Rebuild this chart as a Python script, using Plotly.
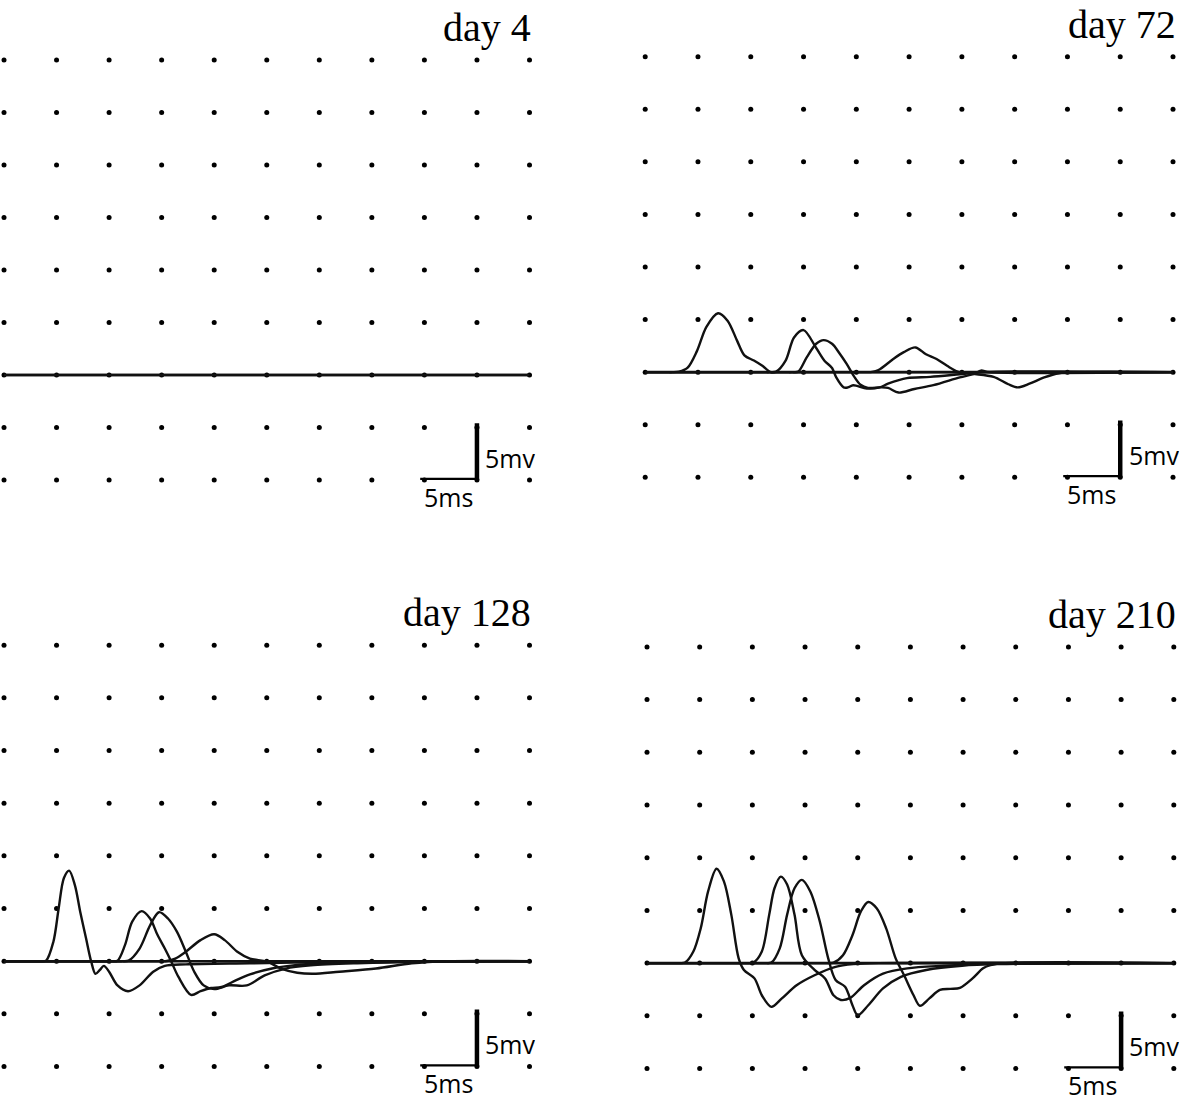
import numpy as np
import plotly.graph_objects as go

W, H = 1181, 1102

# ---------------- data (ms, mV) ----------------
GRID_MS = [0, 5, 10, 15, 20, 25, 30, 35, 40, 45, 50]
GRID_MV = [-10, -5, 0, 5, 10, 15, 20, 25, 30]

PANEL_TITLES = ["day 4", "day 72", "day 128", "day 210"]

BASELINE_MS = [0, 50]
BASELINE_MV = [0, 0]

# day 4: all responses flat
D4_A_MS = [0, 50]
D4_A_MV = [0, 0]

# day 72
D72_A_MS = [0, 2.0, 2.6, 3.2, 4.0, 4.9, 5.8, 6.9, 7.8, 8.7, 9.4, 10.3, 11.1, 11.9, 12.5, 50]
D72_A_MV = [0, 0, 0, 0.05, 0.4, 2.0, 4.3, 5.6, 4.9, 3.0, 1.6, 1.1, 0.6, 0.0, 0, 0]
D72_B_MS = [0, 11.2, 11.8, 12.4, 13.3, 14.1, 15.0, 16.2, 17.0, 17.7, 18.1, 18.8, 19.2, 19.7, 21.0, 22.2, 23.0, 24.8, 27.0, 29.8, 32.0, 50]
D72_B_MV = [0, 0, 0, 0.05, 1.1, 3.3, 4.0, 2.3, 1.07, 0.4, -0.5, -1.45, -1.45, -1.25, -1.55, -1.45, -1.1, -0.57, -0.45, -0.2, 0, 0]
D72_C_MS = [0, 13.3, 13.9, 14.5, 15.3, 16.2, 16.9, 17.7, 18.4, 19.1, 19.75, 20.4, 21.1, 22.3, 23.0, 24.0, 25.5, 27.3, 29.8, 31.2, 31.8, 32.6, 50]
D72_C_MV = [0, 0, 0, 0.05, 1.4, 2.7, 3.05, 2.7, 1.8, 0.76, -0.35, -1.2, -1.5, -1.45, -1.5, -1.94, -1.6, -1.24, -0.5, -0.15, 0.15, 0, 0]
D72_D_MS = [0, 20.3, 20.9, 21.5, 22.1, 23.5, 24.5, 25.6, 26.6, 27.6, 28.6, 29.6, 31.0, 33.0, 34.4, 35.3, 36.4, 37.8, 39.2, 41.0, 50]
D72_D_MV = [0, 0, 0, 0.02, 0.2, 1.25, 1.9, 2.35, 1.7, 1.25, 0.6, 0.05, -0.15, -0.45, -1.15, -1.45, -1.1, -0.5, -0.1, 0, 0]

# day 128
D128_A_MS = [0, 2.8, 3.4, 4.0, 4.7, 5.2, 5.7, 6.2, 6.75, 7.25, 7.8, 8.3, 8.7, 9.1, 9.5, 10.0, 10.8, 11.8, 12.9, 14.2, 15.3, 17.3, 23.4, 30.3, 40.0, 50]
D128_A_MV = [0, 0, 0, 0.05, 1.85, 5.0, 7.9, 8.6, 7.2, 4.7, 2.2, -0.05, -1.2, -0.85, -0.45, -1.0, -2.3, -2.85, -2.3, -1.0, -0.45, -0.3, -0.2, -0.1, 0, 0]
D128_B_MS = [0, 9.6, 10.2, 10.8, 11.5, 12.2, 13.1, 13.9, 14.6, 15.3, 15.9, 16.6, 17.8, 18.7, 19.7, 20.7, 22.1, 23.4, 25.5, 27.5, 30.2, 37.0, 50]
D128_B_MV = [0, 0, 0, 0.05, 1.5, 3.75, 4.75, 4.05, 2.5, 1.2, 0, -1.5, -3.2, -2.85, -2.55, -2.45, -1.8, -1.25, -0.7, -0.4, -0.2, -0.05, 0]
D128_C_MS = [0, 10.6, 11.2, 11.85, 12.9, 13.9, 14.75, 15.6, 16.45, 17.3, 18.1, 19.0, 20.0, 21.4, 23.1, 24.8, 26.8, 29.2, 33.6, 40.4, 50]
D128_C_MV = [0, 0, 0, 0.05, 1.2, 3.4, 4.65, 4.05, 2.8, 0.9, -1.0, -2.3, -2.65, -2.3, -2.3, -1.35, -0.7, -0.4, -0.2, -0.05, 0]
D128_D_MS = [0, 14.3, 14.9, 15.5, 16.3, 17.3, 18.7, 20.0, 21.0, 22.2, 23.4, 25.0, 26.5, 27.9, 29.4, 31.9, 35.4, 38.8, 42.2, 50]
D128_D_MV = [0, 0, 0, 0.02, 0.25, 0.9, 2.0, 2.55, 2.0, 0.9, 0.25, -0.05, -0.75, -1.1, -1.2, -1.0, -0.7, -0.2, 0, 0]

# day 210
D210_A_MS = [0, 2.4, 3.0, 3.6, 4.4, 5.1, 5.8, 6.6, 7.3, 8.0, 8.7, 9.2, 10.2, 10.9, 11.8, 12.8, 14.2, 15.9, 17.9, 19.6, 22.0, 50]
D210_A_MV = [0, 0, 0, 0.05, 1.1, 3.3, 6.8, 8.95, 7.75, 4.6, 0.45, -0.65, -1.45, -3.05, -4.15, -3.35, -2.1, -1.15, -0.35, -0.1, 0, 0]
D210_B_MS = [0, 8.9, 9.5, 10.1, 10.9, 11.6, 12.1, 12.7, 13.3, 14.0, 14.7, 15.9, 16.9, 17.7, 18.4, 19.3, 20.6, 22.4, 24.7, 28.2, 31.6, 50]
D210_B_MV = [0, 0, 0, 0.05, 1.1, 4.6, 7.1, 8.2, 7.45, 4.6, 0.75, -0.65, -1.45, -3.05, -3.5, -3.3, -2.1, -1.0, -0.5, -0.25, -0.1, 0]
D210_C_MS = [0, 10.6, 11.2, 11.8, 12.6, 13.3, 14.0, 14.7, 15.5, 16.4, 17.2, 17.9, 18.8, 19.5, 20.0, 21.0, 22.4, 24.1, 26.5, 29.9, 33.3, 50]
D210_C_MV = [0, 0, 0, 0.05, 1.4, 4.6, 7.1, 7.9, 6.8, 3.95, 0.45, -1.6, -2.25, -4.0, -4.95, -4.0, -2.4, -1.3, -0.65, -0.25, -0.1, 0]
D210_D_MS = [0, 16.5, 17.1, 17.7, 18.6, 19.5, 20.3, 21.0, 21.8, 22.7, 23.6, 24.4, 25.3, 25.9, 26.8, 27.8, 28.8, 29.7, 30.9, 31.9, 32.6, 34.0, 50]
D210_D_MV = [0, 0, 0, 0.05, 0.75, 2.65, 4.9, 5.8, 5.2, 3.3, 0.45, -1.15, -3.05, -4.05, -3.35, -2.55, -2.45, -2.35, -1.45, -0.5, -0.2, 0, 0]

# scale bar (5 ms x 5 mV)
SCALE_MS = [39.6, 45.0, 45.0]
SCALE_MV = [-10.0, -10.0, -4.6]
SCALE_LABEL_MV = "5mv"
SCALE_LABEL_MS = "5ms"
LABEL_MV_POS = (45.6, -7.86)    # ms, mV (left edge, middle)
LABEL_MS_POS = (42.3, -11.6)    # ms, mV (centre)

PANEL_TRACES = [
    [(D4_A_MS, D4_A_MV)],
    [(D72_A_MS, D72_A_MV), (D72_B_MS, D72_B_MV), (D72_C_MS, D72_C_MV), (D72_D_MS, D72_D_MV)],
    [(D128_A_MS, D128_A_MV), (D128_B_MS, D128_B_MV), (D128_C_MS, D128_C_MV), (D128_D_MS, D128_D_MV)],
    [(D210_A_MS, D210_A_MV), (D210_B_MS, D210_B_MV), (D210_C_MS, D210_C_MV), (D210_D_MS, D210_D_MV)],
]

# ---------------- layout (pixel boxes of each panel) ----------------
# (left, right, top, bottom) in pixels for x 0..50 ms and y 30..-10 mV
BOXES = [
    (4.0, 529.5, 60.0, 480.0),
    (645.2, 1173.0, 56.7, 477.3),
    (4.0, 529.5, 645.2, 1066.5),
    (647.0, 1173.8, 646.9, 1068.5),
]
TITLE_RIGHT = [533, 1178, 533, 1178]
X_RANGE = [0, 50]
Y_RANGE = [-10, 30]

fig = go.Figure()
gx, gy = np.meshgrid(GRID_MS, GRID_MV)
annotations = []
layout_axes = {}

for i, (box, traces) in enumerate(zip(BOXES, PANEL_TRACES)):
    n = i + 1
    xa = "x" if n == 1 else f"x{n}"
    ya = "y" if n == 1 else f"y{n}"
    l, r, t, b = box
    layout_axes["xaxis" if n == 1 else f"xaxis{n}"] = dict(
        domain=[l / W, r / W], range=X_RANGE, visible=False, fixedrange=True,
        anchor=ya)
    layout_axes["yaxis" if n == 1 else f"yaxis{n}"] = dict(
        domain=[1 - b / H, 1 - t / H], range=Y_RANGE, visible=False, fixedrange=True,
        anchor=xa)

    def to_paper(ms, mv):
        px = l + (ms - X_RANGE[0]) / (X_RANGE[1] - X_RANGE[0]) * (r - l)
        py = t + (Y_RANGE[1] - mv) / (Y_RANGE[1] - Y_RANGE[0]) * (b - t)
        return px / W, 1 - py / H

    # dotted grid
    fig.add_trace(go.Scatter(x=gx.ravel(), y=gy.ravel(), mode="markers",
                             marker=dict(size=5, color="#000"),
                             xaxis=xa, yaxis=ya, cliponaxis=False,
                             hoverinfo="skip", showlegend=False))
    # baseline
    fig.add_trace(go.Scatter(x=BASELINE_MS, y=BASELINE_MV, mode="lines",
                             line=dict(color="#111", width=2.6),
                             xaxis=xa, yaxis=ya, cliponaxis=False,
                             hoverinfo="skip", showlegend=False))
    # responses
    for tx, ty in traces:
        fig.add_trace(go.Scatter(x=tx, y=ty, mode="lines",
                                 line=dict(color="#111", width=2.4, shape="spline", smoothing=0.9),
                                 xaxis=xa, yaxis=ya, cliponaxis=False,
                                 hoverinfo="skip", showlegend=False))
    # scale bar
    fig.add_trace(go.Scatter(x=SCALE_MS, y=SCALE_MV, mode="lines",
                             line=dict(color="#000", width=4.5),
                             xaxis=xa, yaxis=ya, cliponaxis=False,
                             hoverinfo="skip", showlegend=False))
    mvx, mvy = to_paper(*LABEL_MV_POS)
    annotations.append(dict(x=mvx, y=mvy, xref="paper", yref="paper", text=SCALE_LABEL_MV,
                            showarrow=False, xanchor="left", yanchor="middle", height=24,
                            font=dict(family="Open Sans", size=25, color="#000")))
    msx, msy = to_paper(*LABEL_MS_POS)
    annotations.append(dict(x=msx, y=msy, xref="paper", yref="paper", text=SCALE_LABEL_MS,
                            showarrow=False, xanchor="center", yanchor="middle", height=22,
                            font=dict(family="Open Sans", size=25, color="#000")))
    # title
    baseline_px = t - 24.5
    annotations.append(dict(x=TITLE_RIGHT[i] / W, y=1 - (baseline_px + 16.6) / H,
                            xref="paper", yref="paper", text=PANEL_TITLES[i],
                            showarrow=False, xanchor="right", yanchor="bottom",
                            font=dict(family="Liberation Serif", size=40, color="#000")))

fig.update_layout(width=W, height=H, margin=dict(l=0, r=0, t=0, b=0),
                  paper_bgcolor="white", plot_bgcolor="white",
                  showlegend=False, annotations=annotations, **layout_axes)

fig.write_html("out.html", config={"displayModeBar": False, "staticPlot": True},
               post_script="document.body.style.margin='0';document.body.style.overflow='hidden';")
